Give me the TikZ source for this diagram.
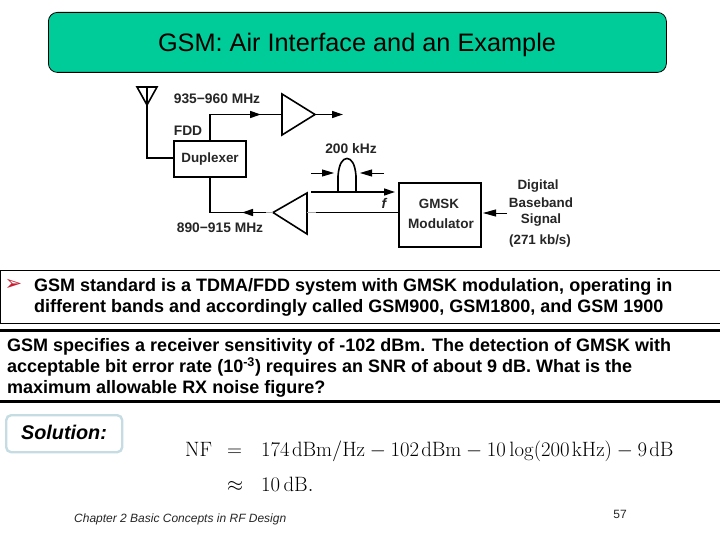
\documentclass[tikz,border=0pt]{standalone}
\usepackage[no-math]{fontspec}
\usepackage{amsmath}
\setmainfont{Liberation Sans}
\newfontfamily\dejavu{DejaVu Sans}
\usetikzlibrary{arrows.meta}
\definecolor{titlegreen}{RGB}{0,204,153}
\definecolor{solborder}{RGB}{196,220,226}
\definecolor{bulletred}{RGB}{200,30,50}
\newcommand{\fs}[1]{\fontsize{#1}{#1}\selectfont}
\tikzset{
  wire/.style={line width=1.3pt,black},
  tipwire/.style={wire,-{Triangle[length=11pt,width=7pt]}},
  graywire/.style={line width=1.3pt,black!35},
  sym/.style={line width=1.6pt,black,line join=miter},
  lab/.style={inner sep=0pt,font=\fs{13.8}\bfseries,text=black!85},
  lab2/.style={inner sep=0pt,font=\fs{13.4}\bfseries,text=black!85},
  body/.style={inner sep=0pt,anchor=base west,font=\fs{18}\bfseries},
  rulebar/.style={line width=3pt,black},
  mathtxt/.style={inner sep=0pt,anchor=base west,font=\fs{20.74}},
}
\begin{document}
\begin{tikzpicture}[x=1pt,y=-1pt]
\useasboundingbox[fill=white] (0,0) rectangle (720,540);
% title
\node[draw=black,line width=0.8pt,fill=titlegreen,rounded corners=9pt,minimum width=618pt,minimum height=60pt,inner sep=0pt,anchor=north west] (title) at (48,12) {};
\node[inner sep=0pt,font=\fs{25.3}] (titletext) at (357,44.5) {GSM: Air Interface and an Example};
% antenna
\coordinate (antL) at (137,87);
\coordinate (antR) at (157,87);
\coordinate (antT) at (147,105);
\draw[sym] (antL) -- (antR) -- (antT) -- cycle;
\draw[sym] (147,87) -- (antT);
% duplexer
\node[draw=black,line width=1.6pt,minimum width=72pt,minimum height=36pt,inner sep=0pt,font=\fs{13.4}\bfseries,text=black!85] (dup) at (210,159) {Duplexer};
\coordinate (antfeed) at (147,158);
\draw[wire] (antT) -- (antfeed) -- (antfeed -| dup.west);
% upper amp
\coordinate (upA) at (282,94);
\coordinate (upB) at (282,135);
\coordinate (upT) at (315,114.5);
\draw[sym] (upA) -- (upT) -- (upB) -- cycle;
\coordinate (upIn) at (282,114.5);
\coordinate (upCorner) at (dup.north |- upIn);
\coordinate (upMid) at (261,114.5);
\coordinate (upOut) at (343,114.5);
\draw[wire] (dup.north) -- (upCorner) -- (upIn);
\draw[tipwire] (upCorner) -- (upMid);
\draw[tipwire] (upT) -- (upOut);
% lower amp
\coordinate (loA) at (307,193);
\coordinate (loB) at (307,234);
\coordinate (loT) at (273,212.5);
\draw[sym] (loA) -- (loT) -- (loB) -- cycle;
\coordinate (loCorner) at (dup.south |- loT);
\coordinate (loMid) at (242,212.5);
\coordinate (loStart) at (266,212.5);
\draw[graywire] (loT) -- (loStart);
\draw[wire] (dup.south) -- (loCorner) -- (loStart);
\draw[tipwire] (loStart) -- (loMid);
% modulator
\node[draw=black,line width=2.4pt,minimum width=82pt,minimum height=64pt,inner sep=0pt,anchor=north west] (mod) at (398,182) {};
\node[lab2] (modA) at (439,204) {GMSK};
\node[lab2,font=\fs{13.6}\bfseries] (modB) at (441,224) {Modulator};
\coordinate (loBase) at (307,212.5);
\draw[graywire] (loBase) -- (316,212.5);
\draw[wire] (316,212.5) -- (loBase -| mod.west);
% spectrum
\coordinate (axS) at (311,192);
\coordinate (axE) at (395,192);
\draw[tipwire] (axS) -- (axE);
\coordinate (bumpL) at (338,192);
\coordinate (bumpR) at (356,192);
\draw[line width=1.6pt] (bumpL) -- (338,176) .. controls (339,163) and (343,158.5) .. (347,158.5) .. controls (351,158.5) and (355,163) .. (356,176) -- (bumpR);
\coordinate (arLs) at (311,173);
\coordinate (arLe) at (334,173);
\coordinate (arRs) at (384,173);
\coordinate (arRe) at (360,173);
\draw[wire,line width=0.9pt,-{Triangle[length=12pt,width=7pt]}] (arLs) -- (arLe);
\draw[wire,line width=0.9pt,-{Triangle[length=12pt,width=7pt]}] (arRs) -- (arRe);
\coordinate (digS) at (507,213);
\draw[wire,line width=0.9pt,-{Triangle[length=13pt,width=7pt]}] (digS) -- (483,213);
% diagram labels
\node[lab] (l1) at (217,99) {935−960 MHz};
\node[lab] (l2) at (188,131) {FDD};
\node[lab] (l3) at (220,228) {890−915 MHz};
\node[lab] (l4) at (351,149) {200 kHz};
\node[lab,font=\fs{14}\bfseries\itshape] (l5) at (384,203) {f};
\node[lab2] (l6) at (538,186) {Digital};
\node[lab2] (l7) at (541,203) {Baseband};
\node[lab2] (l8) at (541,220) {Signal};
\node[lab2] (l9) at (540,241) {(271 kb/s)};
% bullet box
\node[draw=black,line width=1.3pt,minimum width=720pt,minimum height=53pt,inner sep=0pt,anchor=north west] (bbox) at (0,270) {};
\node[inner sep=0pt,text=bulletred,font=\dejavu\fs{21}] (bul) at (13.5,285) {➢};
\node[body] (b1) at (34,291) {GSM standard is a TDMA/FDD system with GMSK modulation, operating in};
\node[body] (b2) at (34,312) {different bands and accordingly called GSM900, GSM1800, and GSM 1900};
% rules
\coordinate (r1a) at (0,330);
\coordinate (r1b) at (720,330);
\coordinate (r2a) at (0,401.5);
\coordinate (r2b) at (720,401.5);
\draw[rulebar] (r1a) -- (r1b);
\draw[rulebar,line width=3.4pt] (r2a) -- (r2b);
% paragraph
\node[body] (p1) at (7,351) {GSM specifies a receiver sensitivity of -102 dBm. The detection of GMSK with};
\node[body] (p2) at (7,372.5) {acceptable bit error rate (10\textsuperscript{-3}) requires an SNR of about 9 dB. What is the};
\node[body] (p3) at (7,393.5) {maximum allowable RX noise figure?};
% solution
\node[draw=solborder,line width=2.4pt,fill=white,rounded corners=5pt,minimum width=116pt,minimum height=37pt,inner sep=0pt,anchor=north west] (sol) at (5,414) {};
\node[inner sep=0pt,font=\fs{19.8}\bfseries\itshape] (soltxt) at (64,432) {Solution:};
% equation
\node[mathtxt] (nf) at (185,456) {$\mathrm{NF}$};
\node[mathtxt] (eq) at (227,456) {$=$};
\node[mathtxt] (rhs) at (261,456) {$174\mkern2mu\mathrm{dBm/Hz}-102\mkern2mu\mathrm{dBm}-10\log(200\mkern2mu\mathrm{kHz})-9\mkern2mu\mathrm{dB}$};
\node[mathtxt] (apx) at (227,491) {$\approx$};
\node[mathtxt] (rhs2) at (261,491) {$10\,\mathrm{dB}.$};
% footer
\node[inner sep=0pt,anchor=base west,font=\fs{12}\itshape,text=black!85] (foot) at (74,522) {Chapter 2 Basic Concepts in RF Design};
\node[inner sep=0pt,font=\fs{12},text=black!85] (page) at (620,514) {57};
\end{tikzpicture}
\end{document}
